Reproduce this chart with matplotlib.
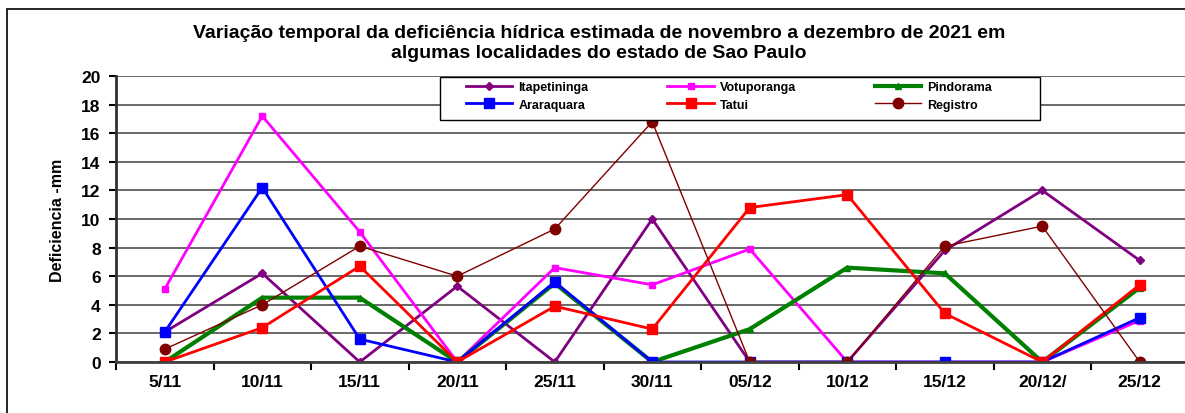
import matplotlib
matplotlib.use("Agg")
import matplotlib.pyplot as plt
from matplotlib.patches import Rectangle

plt.rcParams['font.family'] = ['Liberation Sans', 'DejaVu Sans']

# datas (eixo x)
datas = ["5/11", "10/11", "15/11", "20/11", "25/11", "30/11",
         "05/12", "10/12", "15/12", "20/12/", "25/12"]

# deficiencia hidrica estimada (mm) por localidade
itapetininga = [2.1, 6.2, 0.0, 5.3, 0.0, 10.0, 0.0, 0.0, 7.8, 12.0, 7.1]
votuporanga = [5.1, 17.2, 9.1, 0.0, 6.6, 5.4, 7.9, 0.0, 0.0, 0.0, 2.9]
pindorama = [0.0, 4.5, 4.5, 0.0, 5.5, 0.0, 2.3, 6.6, 6.2, 0.0, 5.2]
araraquara = [2.1, 12.2, 1.6, 0.0, 5.6, 0.0, 0.0, 0.0, 0.0, 0.0, 3.1]
tatui = [0.0, 2.4, 6.7, 0.0, 3.9, 2.3, 10.8, 11.7, 3.4, 0.0, 5.4]
registro = [0.9, 4.0, 8.1, 6.0, 9.3, 16.8, 0.0, 0.0, 8.1, 9.5, 0.0]

x = list(range(len(datas)))
W, H = 1185, 414

fig = plt.figure(figsize=(W / 100, H / 100), dpi=100)
# moldura externa (lado direito e inferior ficam fora da imagem)
fig.patches.append(Rectangle((7 / W, -0.1), 1.2, (H - 10) / H + 0.1, transform=fig.transFigure,
                             fill=False, edgecolor='black', linewidth=1.2))
ax = fig.add_axes([116 / W, 51 / H, 1072.5 / W, 286 / H])

l1, = ax.plot(x, itapetininga, color='#800080', lw=2, marker='D', ms=4, label='Itapetininga')
l2, = ax.plot(x, votuporanga, color='#FF00FF', lw=2, marker='s', ms=4.5, label='Votuporanga')
l3, = ax.plot(x, pindorama, color='#008000', lw=3, marker='^', ms=5, label='Pindorama')
l4, = ax.plot(x, araraquara, color='#0000FF', lw=2, marker='s', ms=7.5, label='Araraquara')
l5, = ax.plot(x, tatui, color='#FF0000', lw=2, marker='s', ms=7.5, label='Tatui')
l6, = ax.plot(x, registro, color='#800000', lw=1, marker='o', ms=7.5, label='Registro')

ax.set_xlim(-0.5, 10.5)
ax.set_ylim(0, 20)
ax.set_yticks(range(0, 21, 2))
ax.set_xticks(x)
ax.set_xticklabels(datas, fontweight='bold', fontsize=12.5)
ax.set_xticks([i + 0.5 for i in range(-1, 11)], minor=True)
ax.tick_params(axis='x', which='major', length=0, pad=9)
ax.tick_params(axis='x', which='minor', length=6, width=1.5, direction='out')
ax.tick_params(axis='y', length=5, width=1.5, labelsize=12.5, pad=6)
for t in ax.get_yticklabels():
    t.set_fontweight('bold')

ax.grid(axis='y', color='#404040', lw=1.1)
ax.set_axisbelow(True)
for s in ['top', 'right']:
    ax.spines[s].set_visible(False)
ax.spines['left'].set_linewidth(2)
ax.spines['bottom'].set_linewidth(2)
ax.spines['bottom'].set_color('#404040')
ax.spines['left'].set_color('#303030')

ax.set_ylabel('Deficiencia -mm', fontweight='bold', fontsize=11.5, labelpad=12)

fig.text(599 / W, (H - 25) / H,
         'Variação temporal da deficiência hídrica estimada de novembro a dezembro de 2021 em\n'
         'algumas localidades do estado de Sao Paulo', ha='center', va='top',
         fontsize=14, fontweight='bold', linespacing=1.25)

# caixa da legenda
ax.add_patch(Rectangle((440 / W, (H - 121) / H), 600 / W, 43 / H, transform=fig.transFigure,
                       facecolor='white', edgecolor='black', lw=1, zorder=4, clip_on=False))
leg = ax.legend([l1, l4, l2, l5, l3, l6],
                ['Itapetininga', 'Araraquara', 'Votuporanga', 'Tatui', 'Pindorama', 'Registro'],
                ncol=3, loc='upper left', bbox_to_anchor=(466 / W, (H - 82) / H),
                bbox_transform=fig.transFigure,
                prop={'weight': 'bold', 'size': 9}, frameon=False,
                borderpad=0, borderaxespad=0, handlelength=3.7, handletextpad=0.5,
                columnspacing=6.3, labelspacing=0.45)
leg.set_zorder(5)

fig.savefig('out.png', dpi=100)
